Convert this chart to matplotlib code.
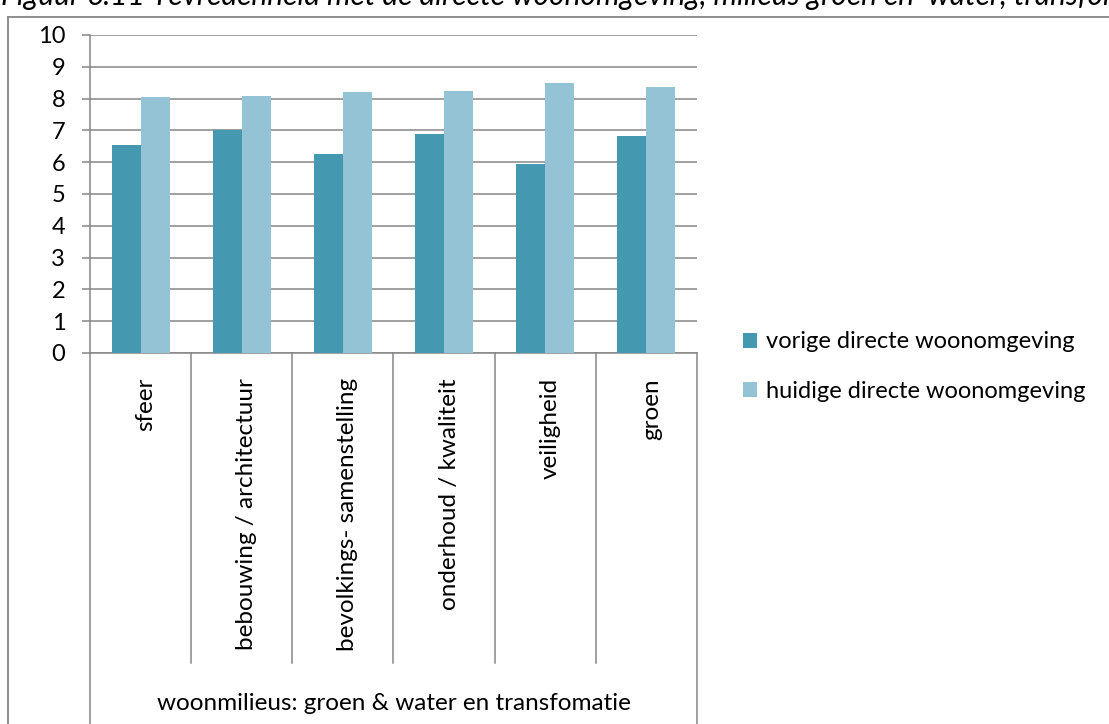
import matplotlib
matplotlib.use("Agg")
import matplotlib.pyplot as plt
from matplotlib.patches import Patch
import numpy as np

plt.rcParams['font.family'] = ['Lato', 'DejaVu Sans']

categories = ["sfeer", "bebouwing / architectuur", "bevolkings- samenstelling",
              "onderhoud / kwaliteit", "veiligheid", "groen"]
group_label = "woonmilieus: groen & water en transfomatie"
series_names = ["vorige directe woonomgeving", "huidige directe woonomgeving"]
vorige = [6.53, 7.02, 6.26, 6.90, 5.94, 6.83]
huidige = [8.05, 8.07, 8.21, 8.23, 8.50, 8.37]
y_ticks = list(range(0, 11))
title = ("Figuur 6.11 Tevredenheid met de directe woonomgeving, milieus groen en  "
         "water, transformatie")

c_dark = "#4498B0"
c_light = "#93C3D5"
c_grid = "#868686"
fs = 17.5

W, H = 1109, 724
fig = plt.figure(figsize=(W / 100, H / 100), dpi=100)

# plot area in pixels: left 90, right 697, top 35 (value 10), bottom 353 (value 0)
left, right, top, bottom = 90, 697, 35, 353
ax = fig.add_axes([left / W, 1 - bottom / H, (right - left) / W, (bottom - top) / H])

x = np.arange(len(categories))
bw = 0.286
ax.bar(x - bw / 2, vorige, bw, color=c_dark, zorder=3)
ax.bar(x + bw / 2, huidige, bw, color=c_light, zorder=3)

ax.set_xlim(-0.5, len(categories) - 0.5)
ax.set_ylim(0, 10)
ax.set_yticks(y_ticks)
ax.yaxis.grid(True, color=c_grid, linewidth=1.1, zorder=0)
ax.set_xticks([])
for s in ["top", "right"]:
    ax.spines[s].set_visible(False)
for s in ["left", "bottom"]:
    ax.spines[s].set_color(c_grid)
    ax.spines[s].set_linewidth(1.1)
ax.tick_params(axis='y', direction='out', length=5.8, width=1.1, color=c_grid,
               pad=12, labelsize=17)

# category separators below the axis
ph = bottom - top
sep_bottom = (bottom - 663) / ph
full_bottom = (bottom - H) / ph
trans = ax.get_xaxis_transform()
for b in np.arange(0.5, len(categories) - 0.5, 1.0):
    ax.plot([b, b], [0, sep_bottom], transform=trans, color=c_grid,
            linewidth=1.1, clip_on=False)
for b in [-0.5, len(categories) - 0.5]:
    ax.plot([b, b], [0, full_bottom], transform=trans, color=c_grid,
            linewidth=1.1, clip_on=False)

# rotated category labels
for i, lab in enumerate(categories):
    ax.text(i + 0.05, (bottom - 378) / ph, lab, rotation=90, ha='center', va='top',
            fontsize=fs, transform=trans)

ax.text((len(categories) - 1) / 2, (bottom - 704) / ph, group_label, ha='center',
        va='center', fontsize=fs, transform=trans)

# outer chart frame
fig.add_artist(plt.Line2D([8 / W, 8 / W], [0, 1 - 17 / H], color=c_grid,
                          linewidth=1.3, transform=fig.transFigure))
fig.add_artist(plt.Line2D([8 / W, 1], [1 - 17 / H, 1 - 17 / H], color=c_grid,
                          linewidth=1.3, transform=fig.transFigure))

# title, running past the top and right page edges
fig.text(1 / W, 1 - 5 / H, title, fontsize=21.5, style='italic', ha='left',
         va='baseline')

handles = [Patch(facecolor=c_dark, label=series_names[0]),
           Patch(facecolor=c_light, label=series_names[1])]
fig.legend(handles=handles, loc='center left', bbox_to_anchor=(731 / W, 1 - 366.5 / H),
           frameon=False, fontsize=17, handlelength=0.6, handleheight=0.6,
           handletextpad=0.4, labelspacing=1.2, borderpad=0)

fig.savefig("out.png", dpi=100)
